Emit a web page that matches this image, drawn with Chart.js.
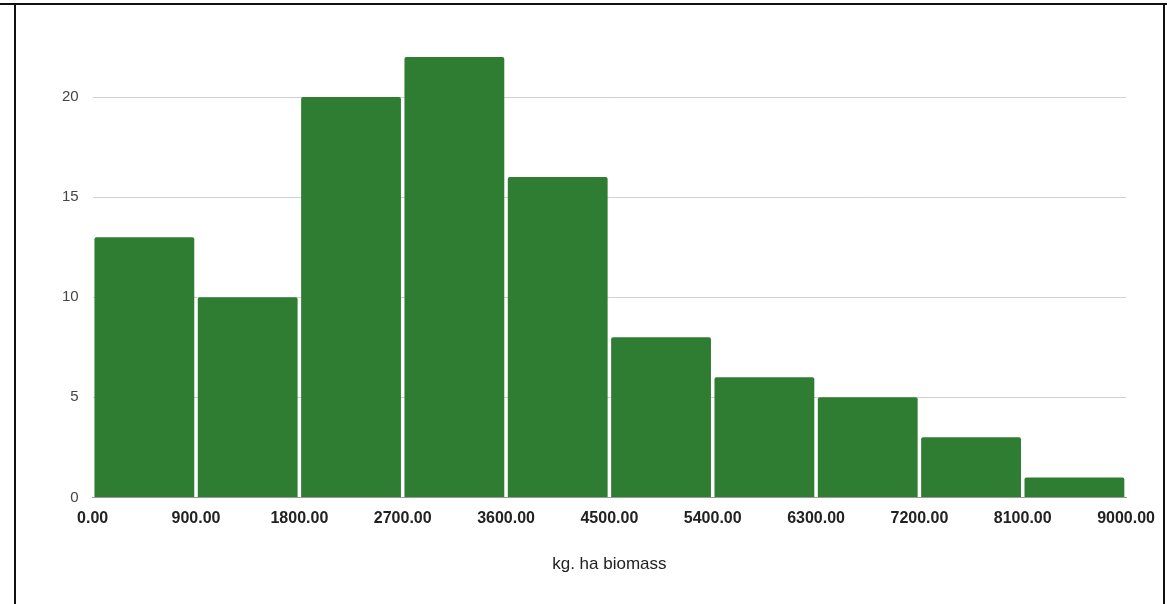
<!DOCTYPE html>
<html>
<head>
<meta charset="utf-8">
<script src="https://cdn.jsdelivr.net/npm/chart.js@4/dist/chart.umd.min.js"></script>
<style>
  html, body { margin: 0; padding: 0; background: #fff; }
  #wrap { position: relative; width: 1167px; height: 604px; overflow: hidden; }
  canvas { position: absolute; left: 0; top: 0; }
  .ln { position: absolute; background: #111; }
</style>
</head>
<body>
<div id="wrap">
  <canvas id="c" width="1167" height="604"></canvas>
  <div class="ln" style="left:0; top:3px; width:1167px; height:2px;"></div>
  <div class="ln" style="left:14px; top:3px; width:2px; height:610px;"></div>
  <div class="ln" style="left:1163px; top:3px; width:2px; height:610px;"></div>
</div>
<script>
const binEdges = [0, 900, 1800, 2700, 3600, 4500, 5400, 6300, 7200, 8100, 9000];
const counts = [13, 10, 20, 22, 16, 8, 6, 5, 3, 1];
const yTickValues = [0, 5, 10, 15, 20];
const xTitle = "kg. ha biomass";

const points = counts.map((v, i) => ({ x: (binEdges[i] + binEdges[i + 1]) / 2, y: v }));

new Chart(document.getElementById('c'), {
  type: 'bar',
  data: {
    datasets: [{
      data: points,
      backgroundColor: '#2e7d32',
      borderWidth: 0,
      borderRadius: 2,
      borderSkipped: 'bottom',
      barPercentage: 0.966,
      categoryPercentage: 1
    }]
  },
  options: {
    responsive: false,
    animation: false,
    plugins: { legend: { display: false }, tooltip: { enabled: false } },
    layout: { padding: { left: 48, right: 40, top: 57, bottom: 29 } },
    scales: {
      x: {
        type: 'linear',
        offset: false,
        min: binEdges[0],
        max: binEdges[binEdges.length - 1],
        afterBuildTicks: (s) => { s.ticks = binEdges.map(v => ({ value: v })); },
        ticks: {
          autoSkip: false,
          maxRotation: 0,
          padding: 12,
          color: '#222',
          font: { family: 'Liberation Sans, Arial, sans-serif', size: 16, weight: 'bold' },
          callback: (v) => Number(v).toFixed(2)
        },
        grid: { display: false, drawTicks: false },
        border: { display: true, color: '#999', width: 1 },
        title: {
          display: true,
          text: xTitle,
          color: '#222',
          font: { family: 'Liberation Sans, Arial, sans-serif', size: 17 },
          padding: { top: 14, bottom: 0 }
        }
      },
      y: {
        min: 0,
        max: 22,
        afterBuildTicks: (s) => { s.ticks = yTickValues.map(v => ({ value: v })); },
        ticks: {
          padding: 14,
          color: '#444',
          font: { family: 'Liberation Sans, Arial, sans-serif', size: 15 }
        },
        grid: { color: '#d0d0d0', lineWidth: 1, drawTicks: false },
        border: { display: false }
      }
    }
  }
});
</script>
</body>
</html>
